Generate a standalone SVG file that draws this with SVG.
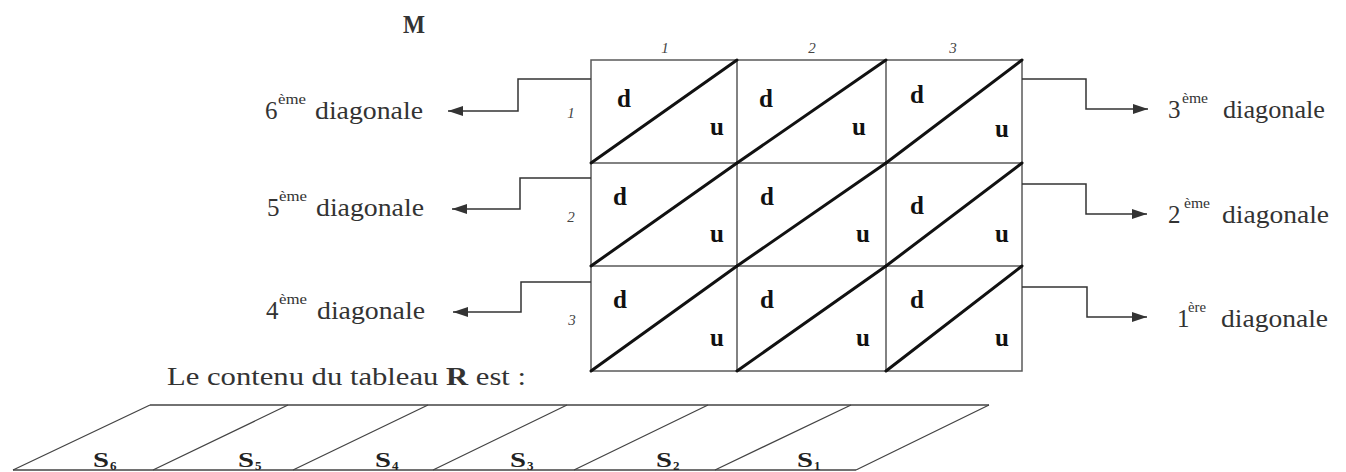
<svg xmlns="http://www.w3.org/2000/svg" width="1346" height="472" viewBox="0 0 1346 472">
<defs>
<style>
text{font-family:'Liberation Serif','Times New Roman','DejaVu Serif',serif;fill:#333}
.lbl{font-size:25px}
.sup{font-size:15px}
.hd{font-size:15px;font-style:italic;fill:#444}
.cv{font-size:25px;font-weight:bold;fill:#111}
.sl{font-size:22px;font-weight:bold;fill:#222}
.sub{font-size:13px;font-weight:bold;fill:#222}
.grid{stroke:#5a5a5a;stroke-width:1.5;fill:none}
.diag{stroke:#111;stroke-width:3;stroke-linecap:round}
.conn{stroke:#333;stroke-width:1.5;fill:none;marker-end:url(#arr)}
.strip{stroke:#444;stroke-width:1.3;fill:none}
</style>
<marker id="arr" markerUnits="userSpaceOnUse" markerWidth="16" markerHeight="12" refX="15" refY="6" orient="auto">
<path d="M0,1 L15,6 L0,11 z" fill="#333"/>
</marker>
</defs>
<rect width="1346" height="472" fill="#fff"/>

<g id="title-M"><text x="403" y="33" font-size="26" font-weight="bold" fill="#222" textLength="22" lengthAdjust="spacingAndGlyphs">M</text></g>

<g id="headers">
<text class="hd" x="665" y="53" text-anchor="middle">1</text>
<text class="hd" x="812" y="53" text-anchor="middle">2</text>
<text class="hd" x="953" y="53" text-anchor="middle">3</text>
<text class="hd" x="571" y="118" text-anchor="middle">1</text>
<text class="hd" x="571" y="222" text-anchor="middle">2</text>
<text class="hd" x="572" y="325" text-anchor="middle">3</text>
</g>

<g id="matrix-grid" class="grid">
<rect x="591" y="60" width="431" height="311"/>
<path d="M737,60 V371 M886,60 V371 M591,163 H1022 M591,266 H1022"/>
</g>

<g id="cell-1-1"><line class="diag" x1="591" y1="163" x2="737" y2="60"/><text class="cv" x="624" y="107" text-anchor="middle">d</text><text class="cv" x="717" y="135" text-anchor="middle">u</text></g>
<g id="cell-1-2"><line class="diag" x1="737" y1="163" x2="886" y2="60"/><text class="cv" x="766" y="107" text-anchor="middle">d</text><text class="cv" x="859" y="135" text-anchor="middle">u</text></g>
<g id="cell-1-3"><line class="diag" x1="886" y1="163" x2="1022" y2="60"/><text class="cv" x="917" y="103" text-anchor="middle">d</text><text class="cv" x="1002" y="137" text-anchor="middle">u</text></g>
<g id="cell-2-1"><line class="diag" x1="591" y1="266" x2="737" y2="163"/><text class="cv" x="620" y="205" text-anchor="middle">d</text><text class="cv" x="717" y="242" text-anchor="middle">u</text></g>
<g id="cell-2-2"><line class="diag" x1="737" y1="266" x2="886" y2="163"/><text class="cv" x="767" y="205" text-anchor="middle">d</text><text class="cv" x="863" y="242" text-anchor="middle">u</text></g>
<g id="cell-2-3"><line class="diag" x1="886" y1="266" x2="1022" y2="163"/><text class="cv" x="917" y="214" text-anchor="middle">d</text><text class="cv" x="1002" y="242" text-anchor="middle">u</text></g>
<g id="cell-3-1"><line class="diag" x1="591" y1="371" x2="737" y2="266"/><text class="cv" x="620" y="308" text-anchor="middle">d</text><text class="cv" x="717" y="346" text-anchor="middle">u</text></g>
<g id="cell-3-2"><line class="diag" x1="737" y1="371" x2="886" y2="266"/><text class="cv" x="767" y="308" text-anchor="middle">d</text><text class="cv" x="863" y="346" text-anchor="middle">u</text></g>
<g id="cell-3-3"><line class="diag" x1="886" y1="371" x2="1022" y2="266"/><text class="cv" x="917" y="308" text-anchor="middle">d</text><text class="cv" x="1002" y="346" text-anchor="middle">u</text></g>

<g id="connectors">
<path class="conn" d="M591,79 H518 V111 H448"/>
<path class="conn" d="M591,178 H520 V209 H452"/>
<path class="conn" d="M591,282 H521 V312 H453"/>
<path class="conn" d="M1022,79 H1086 V109 H1148"/>
<path class="conn" d="M1022,184 H1086 V214 H1147"/>
<path class="conn" d="M1022,287 H1087 V317 H1147"/>
</g>

<g id="diag-6"><text class="lbl" x="265" y="119">6</text><text class="sup" x="278" y="104" textLength="28" lengthAdjust="spacingAndGlyphs">ème</text><text class="lbl" x="315" y="119" textLength="108" lengthAdjust="spacingAndGlyphs">diagonale</text></g>
<g id="diag-5"><text class="lbl" x="267" y="216">5</text><text class="sup" x="279" y="201" textLength="28" lengthAdjust="spacingAndGlyphs">ème</text><text class="lbl" x="316" y="216" textLength="108" lengthAdjust="spacingAndGlyphs">diagonale</text></g>
<g id="diag-4"><text class="lbl" x="266" y="319">4</text><text class="sup" x="279" y="304" textLength="28" lengthAdjust="spacingAndGlyphs">ème</text><text class="lbl" x="317" y="319" textLength="108" lengthAdjust="spacingAndGlyphs">diagonale</text></g>
<g id="diag-3"><text class="lbl" x="1168" y="118">3</text><text class="sup" x="1182" y="103" textLength="26" lengthAdjust="spacingAndGlyphs">ème</text><text class="lbl" x="1223" y="118" textLength="102" lengthAdjust="spacingAndGlyphs">diagonale</text></g>
<g id="diag-2"><text class="lbl" x="1168" y="223">2</text><text class="sup" x="1184" y="208" textLength="26" lengthAdjust="spacingAndGlyphs">ème</text><text class="lbl" x="1222" y="223" textLength="107" lengthAdjust="spacingAndGlyphs">diagonale</text></g>
<g id="diag-1"><text class="lbl" x="1177" y="327">1</text><text class="sup" x="1188" y="312" textLength="18" lengthAdjust="spacingAndGlyphs">ère</text><text class="lbl" x="1221" y="327" textLength="107" lengthAdjust="spacingAndGlyphs">diagonale</text></g>

<g id="caption"><text x="167" y="385" font-size="26" textLength="359" lengthAdjust="spacingAndGlyphs">Le contenu du tableau <tspan font-weight="bold">R</tspan> est :</text></g>

<g id="tableau-R" class="strip">
<path d="M150,405 H989 M13,470 H856"/>
<path d="M13,470 L150,405 M153,470 L288,405 M293,470 L428,405 M433,470 L567,405 M574,470 L708,405 M715,470 L851,405 M856,470 L989,405"/>
</g>
<g id="R-S6"><text class="sl" x="93" y="467" textLength="16" lengthAdjust="spacingAndGlyphs">S</text><text class="sub" x="110" y="470">6</text></g>
<g id="R-S5"><text class="sl" x="238" y="467" textLength="16" lengthAdjust="spacingAndGlyphs">S</text><text class="sub" x="255" y="470">5</text></g>
<g id="R-S4"><text class="sl" x="375" y="467" textLength="16" lengthAdjust="spacingAndGlyphs">S</text><text class="sub" x="392" y="470">4</text></g>
<g id="R-S3"><text class="sl" x="510" y="467" textLength="16" lengthAdjust="spacingAndGlyphs">S</text><text class="sub" x="527" y="470">3</text></g>
<g id="R-S2"><text class="sl" x="656" y="467" textLength="16" lengthAdjust="spacingAndGlyphs">S</text><text class="sub" x="673" y="470">2</text></g>
<g id="R-S1"><text class="sl" x="797" y="467" textLength="16" lengthAdjust="spacingAndGlyphs">S</text><text class="sub" x="814" y="470">1</text></g>
</svg>
